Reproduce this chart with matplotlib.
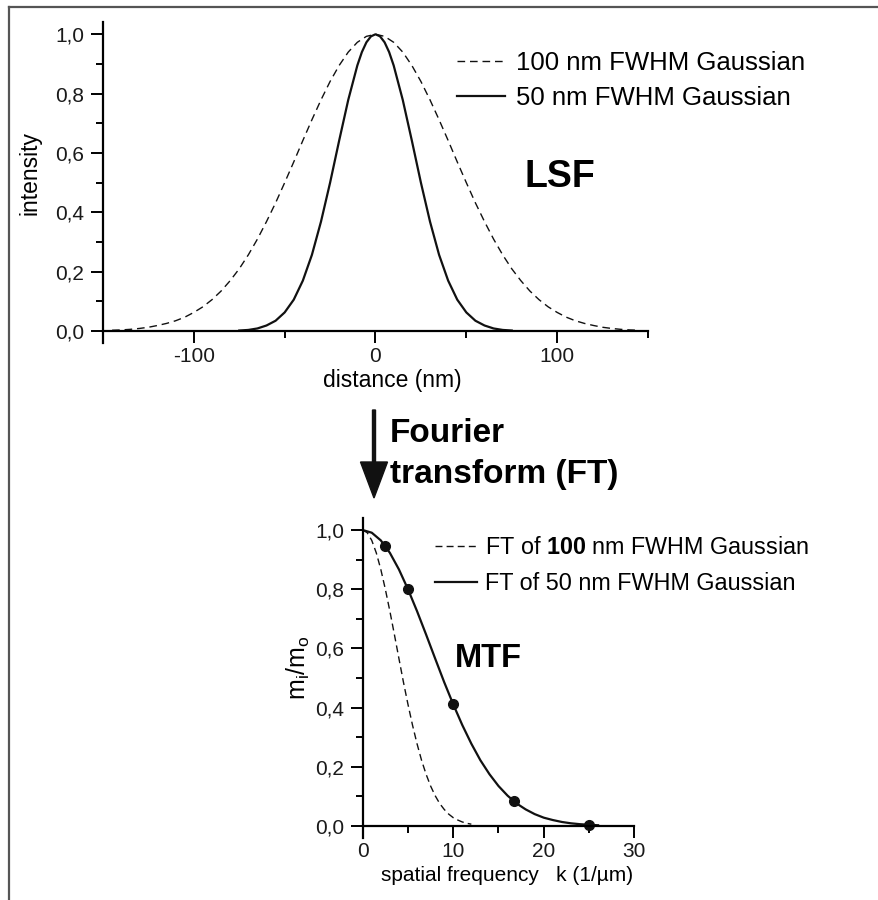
import numpy as np
import matplotlib
matplotlib.use("Agg")
import matplotlib.pyplot as plt
from matplotlib.ticker import MultipleLocator, FuncFormatter
from matplotlib.lines import Line2D
from matplotlib.patches import FancyArrow

plt.rcParams['font.family'] = ['Liberation Sans', 'DejaVu Sans']
plt.rcParams['mathtext.fontset'] = 'custom'
plt.rcParams['mathtext.rm'] = 'Liberation Sans'
plt.rcParams['mathtext.it'] = 'Liberation Sans:italic'
plt.rcParams['mathtext.bf'] = 'Liberation Sans:bold'

# ---------------- data ----------------
# LSF, 100 nm FWHM Gaussian (dashed)
lsf100_x = [-145, -140, -135, -130, -125, -120, -115, -110, -105, -100, -95, -90, -85, -80, -75,
            -70, -65, -60, -55, -50, -45, -40, -35, -30, -25, -20, -15, -10, -5, 0,
            5, 10, 15, 20, 25, 30, 35, 40, 45, 50, 55, 60, 65, 70, 75,
            80, 85, 90, 95, 100, 105, 110, 115, 120, 125, 130, 135, 140, 145]
lsf100_y = [0.003, 0.004, 0.006, 0.009, 0.013, 0.019, 0.026, 0.035, 0.047, 0.063, 0.082, 0.106, 0.135, 0.170, 0.210,
            0.257, 0.310, 0.369, 0.432, 0.500, 0.570, 0.642, 0.712, 0.779, 0.841, 0.895, 0.940, 0.973, 0.993, 1.000,
            0.993, 0.973, 0.940, 0.895, 0.841, 0.779, 0.712, 0.642, 0.570, 0.500, 0.432, 0.369, 0.310, 0.257, 0.210,
            0.170, 0.135, 0.106, 0.082, 0.063, 0.047, 0.035, 0.026, 0.019, 0.013, 0.009, 0.006, 0.004, 0.003]
# LSF, 50 nm FWHM Gaussian (solid)
lsf50_x = [-75, -70, -65, -60, -55, -50, -45, -40, -35, -30, -25, -20, -15, -10, -7.5, -5, -2.5, 0,
           2.5, 5, 7.5, 10, 15, 20, 25, 30, 35, 40, 45, 50, 55, 60, 65, 70, 75]
lsf50_y = [0.002, 0.004, 0.009, 0.019, 0.035, 0.063, 0.106, 0.170, 0.257, 0.369, 0.500, 0.642, 0.779, 0.895,
           0.940, 0.973, 0.993, 1.000,
           0.993, 0.973, 0.940, 0.895, 0.779, 0.642, 0.500, 0.369, 0.257, 0.170, 0.106, 0.063, 0.035, 0.019,
           0.009, 0.004, 0.002]

# MTF, FT of 100 nm FWHM Gaussian (dashed)
mtf100_k = [0, 0.5, 1, 1.5, 2, 2.5, 3, 3.5, 4, 4.5, 5, 5.5, 6, 6.5, 7, 7.5, 8, 8.5, 9, 9.5, 10, 10.5, 11, 11.5, 12]
mtf100_y = [1.000, 0.991, 0.965, 0.923, 0.867, 0.800, 0.726, 0.647, 0.566, 0.486, 0.411, 0.341, 0.278, 0.222,
            0.175, 0.135, 0.1025, 0.076, 0.056, 0.040, 0.028, 0.020, 0.0135, 0.009, 0.006]
# MTF, FT of 50 nm FWHM Gaussian (solid)
mtf50_k = [0, 1, 2, 3, 4, 5, 6, 7, 8, 9, 10, 11, 12, 13, 14, 15, 16, 17, 18, 19, 20, 21, 22, 23, 24, 25, 26]
mtf50_y = [1.000, 0.991, 0.965, 0.923, 0.867, 0.800, 0.726, 0.647, 0.566, 0.486, 0.411, 0.341, 0.278, 0.222,
           0.175, 0.135, 0.1025, 0.076, 0.056, 0.040, 0.028, 0.020, 0.0135, 0.009, 0.006, 0.004, 0.0024]
# marked points on the 50 nm curve
mark_k = [2.5, 5, 10, 16.67, 25]
mark_y = [0.946, 0.800, 0.411, 0.084, 0.004]

lsf_xticks = [-100, 0, 100]
mtf_xticks = [0, 10, 20, 30]
yticks = [0.0, 0.2, 0.4, 0.6, 0.8, 1.0]

# ---------------- figure ----------------
W, H = 879, 900
fig = plt.figure(figsize=(W / 100, H / 100), dpi=100)

def px_axes(l, r, t, b):
    return fig.add_axes([l / W, 1 - b / H, (r - l) / W, (b - t) / H])

comma = FuncFormatter(lambda v, p: f"{v:.1f}".replace('.', ','))
intfmt = FuncFormatter(lambda v, p: f"{int(round(v))}")

def style(ax, xmin, xmax, xmajor, xminor, tick_fs):
    ax.set_xlim(xmin, xmax)
    ax.set_ylim(-0.04, 1.04)
    for s in ('top', 'right'):
        ax.spines[s].set_visible(False)
    ax.spines['bottom'].set_position(('data', 0))
    for s in ('left', 'bottom'):
        ax.spines[s].set_linewidth(1.6)
    ax.xaxis.set_major_locator(MultipleLocator(xmajor))
    ax.xaxis.set_minor_locator(MultipleLocator(xminor))
    ax.yaxis.set_major_locator(MultipleLocator(0.2))
    ax.yaxis.set_minor_locator(MultipleLocator(0.1))
    ax.yaxis.set_major_formatter(comma)
    ax.xaxis.set_major_formatter(intfmt)
    ax.tick_params(which='major', direction='out', length=8.5, width=1.4, labelsize=tick_fs,
                   labelcolor='#1a1a1a')
    ax.tick_params(which='minor', direction='out', length=5, width=1.4)
    ax.tick_params(axis='y', which='major', pad=5)
    ax.tick_params(axis='x', which='major', pad=3)

# ---- top: LSF ----
ax1 = px_axes(103, 648, 22.4, 343)
ax1.plot(lsf100_x, lsf100_y, color='#111111', lw=1.0, ls=(0, (5.5, 3.5)),
         label='100 nm FWHM Gaussian')
ax1.plot(lsf50_x, lsf50_y, color='#111111', lw=1.6, label='50 nm FWHM Gaussian')
style(ax1, -150, 150, 100, 50, 15)
ax1.set_xticks(lsf_xticks)
ax1.set_yticks(yticks)
ax1.set_ylabel('intensity', fontsize=16.5)
ax1.yaxis.set_label_coords((42 - 103) / 545, 0.53)
ax1.set_xlabel('distance (nm)', fontsize=16.5)
ax1.xaxis.set_label_coords((392 - 103) / 545, (343 - 369) / 320.6)
ax1.xaxis.label.set_va('top')
ax1.legend(loc='upper left', bbox_to_anchor=(457 / W, 1 - 51 / H),
           bbox_transform=fig.transFigure, frameon=False, fontsize=18.5,
           handlelength=1.85, handletextpad=0.45, labelspacing=0.42, borderpad=0,
           borderaxespad=0)
ax1.text(525 / W, 1 - 187 / H, 'LSF', transform=fig.transFigure, fontsize=27,
         fontweight='bold', ha='left', va='baseline')

# ---- bottom: MTF ----
ax2 = px_axes(362.7, 634.3, 518.2, 837.8)
ax2.plot(mtf100_k, mtf100_y, color='#111111', lw=1.0, ls=(0, (5, 3)),
         label=r'FT of $\mathbf{100}$ nm FWHM Gaussian')
ax2.plot(mtf50_k, mtf50_y, color='#111111', lw=1.6, label='FT of 50 nm FWHM Gaussian')
ax2.plot(mark_k, mark_y, 'o', color='#111111', ms=7)
style(ax2, 0, 30, 10, 5, 15)
ax2.set_xticks(mtf_xticks)
ax2.set_yticks(yticks)
ax2.set_ylabel(r'm$_\mathrm{i}$/m$_\mathrm{o}$', fontsize=18)
ax2.yaxis.set_label_coords((312 - 362.7) / 271.6, 0.532)
ax2.set_xlabel('spatial frequency   k (1/\u00b5m)', fontsize=15)
ax2.xaxis.set_label_coords((507 - 362.7) / 271.6, (837.8 - 866) / 319.6)
ax2.xaxis.label.set_va('top')
ax2.legend(loc='upper left', bbox_to_anchor=(435 / W, 1 - 536 / H),
           bbox_transform=fig.transFigure, frameon=False, fontsize=16.8,
           handlelength=1.8, handletextpad=0.35, labelspacing=0.57, borderpad=0,
           borderaxespad=0)
ax2.text(455 / W, 1 - 667 / H, 'MTF', transform=fig.transFigure, fontsize=23.5,
         fontweight='bold', ha='left', va='baseline')

# ---- arrow and Fourier transform text ----
fig.text(390 / W, 1 - 442 / H, 'Fourier', fontsize=24, fontweight='bold',
         ha='left', va='baseline')
fig.text(390 / W, 1 - 483 / H, 'transform (FT)', fontsize=24, fontweight='bold',
         ha='left', va='baseline')
arrow = FancyArrow(3.74, (H - 410) / 100, 0, -(498 - 410) / 100, width=0.03,
                   head_width=0.27, head_length=0.36, length_includes_head=True,
                   color='#111111', transform=fig.dpi_scale_trans)
fig.add_artist(arrow)

# ---- partial frame ----
fig.add_artist(Line2D([0.085, W / 100], [(H - 7) / 100, (H - 7) / 100], color='#555555',
                      lw=1.6, transform=fig.dpi_scale_trans))
fig.add_artist(Line2D([0.085, 0.085], [0, (H - 7) / 100], color='#555555',
                      lw=1.6, transform=fig.dpi_scale_trans))

fig.savefig('out.png', dpi=100)
